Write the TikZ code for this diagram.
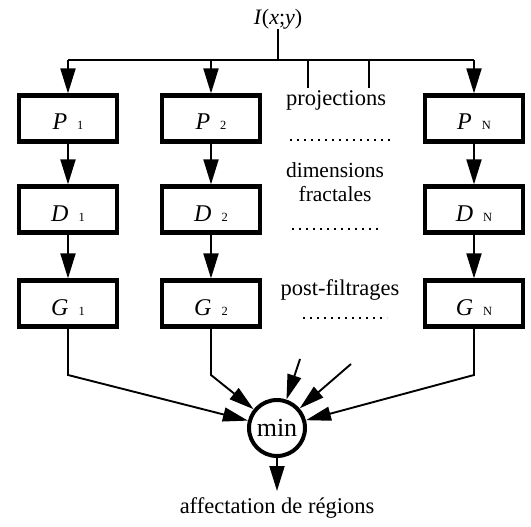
\documentclass[tikz,border=0pt]{standalone}
\usepackage{fontspec}
\setmainfont{Liberation Serif}
\usetikzlibrary{arrows.meta}
\newcommand\boxlab[2]{\textit{#1}\hspace{10pt}{\fontsize{12.5}{12.5}\selectfont #2}}
\begin{document}
\begin{tikzpicture}[x=1pt,y=-1pt,
  stagebox/.style={draw, line width=4.2pt, minimum width=98pt, minimum height=46pt,
    inner sep=0pt, text height=23pt, text depth=0pt, font=\fontsize{24}{24}\selectfont},
  conn/.style={line width=1.9pt},
  arr/.style={conn, -{Triangle[length=25pt,width=15pt]}},
  marr/.style={conn, -{Triangle[length=25pt,width=14pt]}},
  txt/.style={font=\fontsize{22.5}{22.5}\selectfont, inner sep=0pt},
  dotrow/.style={line width=1.9pt, dash pattern=on 1.9pt off 5.1pt},
  minnode/.style={draw, circle, line width=4pt, minimum size=56pt, inner sep=0pt,
    font=\fontsize{26}{26}\selectfont}]
\useasboundingbox (0,0) rectangle (531,527);

% input
\node[txt, font=\fontsize{22}{22}\selectfont] (I) at (278,19) {\textit{I}(\textit{x};\textit{y})};
\coordinate (top) at (278,60);
\coordinate (b1) at (68,60);
\coordinate (b2) at (211,60);
\coordinate (b3) at (474,60);
\coordinate (s1) at (308,60);
\coordinate (s1e) at (308,88);
\coordinate (s2) at (369,60);
\coordinate (s2e) at (369,88);

% boxes
\node[stagebox] (P1) at (68,118.5) {\boxlab{P}{1}};
\node[stagebox] (P2) at (211,118.5) {\boxlab{P}{2}};
\node[stagebox] (PN) at (474,118.5) {\boxlab{P}{N}};
\node[stagebox] (D1) at (68,209.5) {\boxlab{D}{1}};
\node[stagebox] (D2) at (211,209.5) {\boxlab{D}{2}};
\node[stagebox] (DN) at (474,209.5) {\boxlab{D}{N}};
\node[stagebox] (G1) at (68,303.5) {\boxlab{G}{1}};
\node[stagebox] (G2) at (211,303.5) {\boxlab{G}{2}};
\node[stagebox] (GN) at (474,303.5) {\boxlab{G}{N}};

% middle texts
\node[txt] (tproj) at (336,100) {projections};
\node[txt, align=center, font=\fontsize{21.5}{24}\selectfont] (tdim) at (335,182) {dimensions\\fractales};
\node[txt] (tpost) at (340,290) {post-filtrages};
\coordinate (d1a) at (290,140); \coordinate (d1b) at (392,140);
\coordinate (d2a) at (292,229); \coordinate (d2b) at (379,229);
\coordinate (d3a) at (303,318); \coordinate (d3b) at (387,318);
\draw[dotrow] (d1a) -- (d1b);
\draw[dotrow] (d2a) -- (d2b);
\draw[dotrow] (d3a) -- (d3b);

% bus
\draw[conn] (I) -- (top);
\draw[conn] (b1) -- (b3);
\draw[conn] (s1) -- (s1e);
\draw[conn] (s2) -- (s2e);
\draw[arr] (b1) -- (P1);
\draw[arr] (b2) -- (P2);
\draw[arr] (b3) -- (PN);

% columns
\draw[arr] (P1) -- (D1);
\draw[arr] (P2) -- (D2);
\draw[arr] (PN) -- (DN);
\draw[arr] (D1) -- (G1);
\draw[arr] (D2) -- (G2);
\draw[arr] (DN) -- (GN);

% min
\node[minnode] (m) at (277,428) {min};
\coordinate (c1) at (68,375);
\coordinate (c2) at (211,375);
\coordinate (c3) at (474,375);
\coordinate (f1) at (300,359);
\coordinate (f2) at (351,364);
\coordinate (out) at (277,491);
\draw[marr] (G1.south) -- (c1) -- (m);
\draw[marr] (G2.south) -- (c2) -- (m);
\draw[marr] (GN.south) -- (c3) -- (m);
\draw[marr] (f1) -- (m);
\draw[marr] (f2) -- (m);
\draw[arr] (m) -- (out);
\node[txt] (aff) at (277,508) {affectation de r\'egions};
\end{tikzpicture}
\end{document}
